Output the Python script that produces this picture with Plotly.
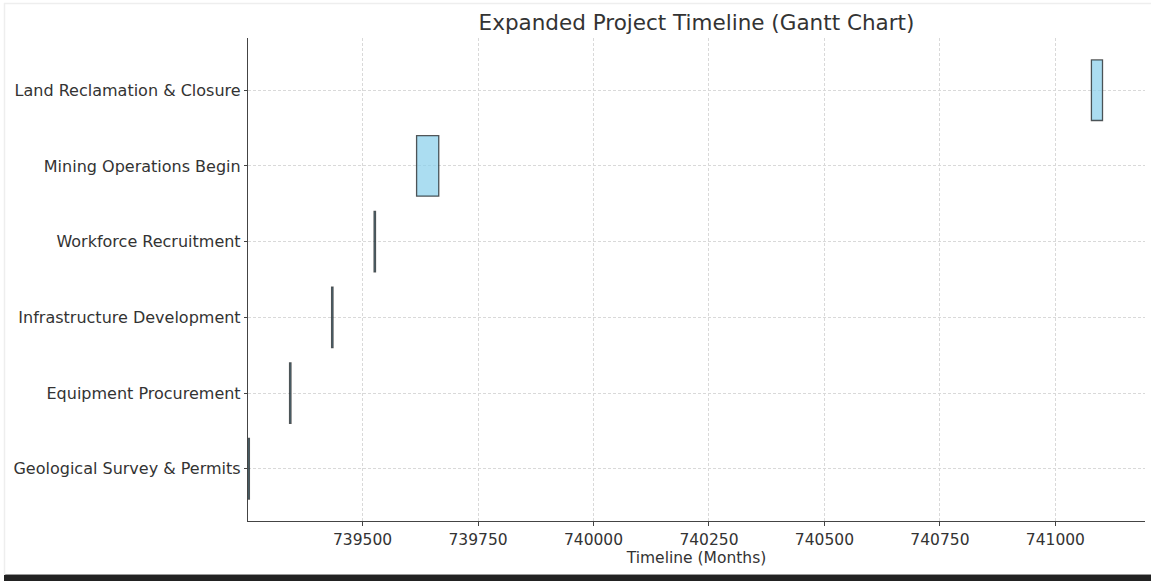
import plotly.graph_objects as go

tasks = ["Geological Survey & Permits", "Equipment Procurement", "Infrastructure Development",
         "Workforce Recruitment", "Mining Operations Begin", "Land Reclamation & Closure"]
starts = [739252, 739342, 739433, 739525, 739617, 741078]   # date ordinals
durations = [3, 3, 3, 3, 48, 24]                            # months
x_ticks = [739500, 739750, 740000, 740250, 740500, 740750, 741000]

FONT = "DejaVu Sans"
TXT = "#333333"

fig = go.Figure()
fig.add_trace(go.Bar(
    y=tasks, x=durations, base=starts, orientation="h", width=0.8,
    marker=dict(color="rgba(135,206,235,0.7)", line=dict(color="rgba(0,0,0,0.65)", width=1.3)),
    showlegend=False, hoverinfo="skip"))

L, R, T, B = 248, 6, 38, 60
fig.update_layout(
    width=1151, height=581,
    margin=dict(l=L, r=R, t=T, b=B, autoexpand=False),
    paper_bgcolor="white", plot_bgcolor="white",
    font=dict(family=FONT, size=16, color=TXT),
    title=dict(text="Expanded Project Timeline (Gantt Chart)", x=0.5, xref="paper",
               y=1 - 22 / 581, yanchor="middle", font=dict(size=21.5, color=TXT, family=FONT)),
    bargap=0.2,
)
fig.update_xaxes(
    range=[739252, 741194], tickvals=x_ticks, tickformat="d",
    showline=True, linecolor="#444444", linewidth=1.3,
    ticks="outside", ticklen=4, tickcolor="#444444", tickwidth=1.2,
    showgrid=True, gridcolor="#d9d9d9", griddash="3px,2px", gridwidth=0.8,
    zeroline=False, tickfont=dict(size=15.5, color=TXT),
    title=dict(text="Timeline (Months)", font=dict(size=15.5, color=TXT), standoff=1),
)
fig.update_yaxes(
    type="category", categoryorder="array", categoryarray=tasks,
    range=[-0.69, 5.69],
    showline=True, linecolor="#444444", linewidth=1.3,
    ticks="outside", ticklen=3, tickcolor="#444444", tickwidth=1.2,
    showgrid=True, gridcolor="#d9d9d9", griddash="3px,2px", gridwidth=0.8,
    zeroline=False, tickfont=dict(size=16, color=TXT),
)

# screenshot frame: faint left/top border and dark bottom strip
W_plot = 1151 - L - R
H_plot = 581 - T - B
def px(x): return (x - L) / W_plot
def py(y): return (581 - B - y) / H_plot
fig.add_shape(type="rect", xref="paper", yref="paper", x0=px(4), x1=px(1151), y0=py(581), y1=py(575),
              fillcolor="#222222", line=dict(width=0), layer="above")
fig.add_shape(type="line", xref="paper", yref="paper", x0=px(4), x1=px(1151), y0=py(574.5), y1=py(574.5),
              line=dict(color="#999999", width=1), layer="above")
fig.add_shape(type="line", xref="paper", yref="paper", x0=px(4.5), x1=px(4.5), y0=py(3), y1=py(575),
              line=dict(color="#eeeeee", width=1.5), layer="above")
fig.add_shape(type="line", xref="paper", yref="paper", x0=px(4), x1=px(1151), y0=py(3.5), y1=py(3.5),
              line=dict(color="#eeeeee", width=1.5), layer="above")

fig.write_html("out.html", config={"displayModeBar": False},
               post_script="document.body.style.margin='0';document.body.style.overflow='hidden';")
